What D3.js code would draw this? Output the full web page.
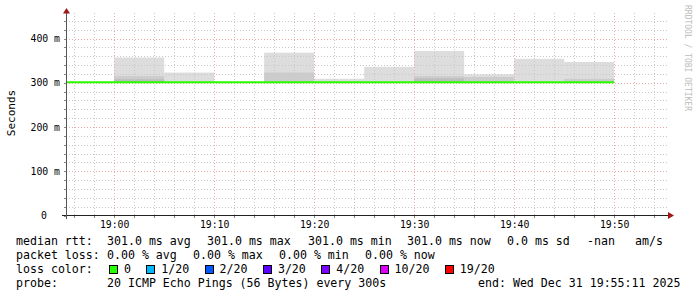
<!DOCTYPE html>
<html>
<head>
<meta charset="utf-8">
<script src="https://cdn.jsdelivr.net/npm/d3@7/dist/d3.min.js"></script>
<style>
  body { margin: 0; background: #fff; }
  text { font-family: 'DejaVu Sans Mono', monospace; white-space: pre; }
</style>
</head>
<body>
<div id="chart"></div>
<script>
// 5-minute intervals (start time), values in ms
let intervalStarts = ['18:55', '19:00', '19:05', '19:10', '19:15', '19:20', '19:25', '19:30', '19:35', '19:40', '19:45']
let medianMs = [301, 301, 301, 301, 301, 301, 301, 301, 301, 301, 301]
let smokeOuterMs = [null, 357, 323, null, 368, 309, 336, 372, 319, 354, 347]
let smokeMidMs = [null, 315, null, null, 323, null, null, 315, 313, null, 309]
let smokeCoreMs = [null, 308, null, null, null, null, null, 310, null, null, null]
let smokeMinMs = 300.5

let lossLabels = ['0', '1/20', '2/20', '3/20', '4/20', '10/20', '19/20']
let lossColors = ['#26ff00', '#00b8ff', '#0059ff', '#5e00ff', '#7e00ff', '#dd00ff', '#ff0000']

let rttLine = [
  ['median rtt:', 16], ['301.0 ms avg', 107], ['301.0 ms max', 207], ['301.0 ms min', 308],
  ['301.0 ms now', 407], ['0.0 ms sd', 507], ['-nan', 587], ['am/s', 635]
]
let lossLine = [
  ['packet loss:', 16], ['0.00 % avg', 107], ['0.00 % max', 193], ['0.00 % min', 279], ['0.00 % now', 365]
]
let probeLine = [
  ['probe:', 16], ['20 ICMP Echo Pings (56 Bytes) every 300s', 107], ['end: Wed Dec 31 19:55:11 2025', 478]
]

let width = 697
let height = 297

let svg = d3
  .select('#chart')
  .append('svg')
  .attr('width', width)
  .attr('height', height)

svg.append('rect').attr('width', width).attr('height', height).attr('fill', '#fff')

let t = (hm, s = 0) => {
  let [h, m] = hm.split(':').map(Number)
  return new Date(2025, 11, 31, h, m, s)
}

let start = t('18:55', 11)
let end = t('19:55', 11)

let x = d3.scaleTime().domain([start, end]).range([66, 666])
let y = d3.scaleLinear().domain([0, 0.4565]).range([215.5, 13.5])

let px = v => Math.round(v) + 0.5

// smoke
let layers = [
  { vals: smokeOuterMs, color: '#dddddd' },
  { vals: smokeMidMs, color: '#cccccc' },
  { vals: smokeCoreMs, color: '#bdbdbd' }
]

layers.forEach(layer => {
  svg
    .append('g')
    .selectAll('rect')
    .data(intervalStarts.map((s, i) => ({ s, v: layer.vals[i] })).filter(d => d.v != null))
    .enter()
    .append('rect')
    .attr('x', d => Math.max(x(t(d.s)), 66))
    .attr('width', d => x(d3.timeMinute.offset(t(d.s), 5)) - Math.max(x(t(d.s)), 66))
    .attr('y', d => y(d.v / 1000))
    .attr('height', d => y(smokeMinMs / 1000) - y(d.v / 1000))
    .attr('fill', layer.color)
})

// grid
let minorX = d3.timeMinute.every(2).range(start, end)
let majorX = d3.timeMinute.every(10).range(start, end)
let minorY = d3.range(0, 0.457, 0.02)
let majorY = d3.range(0, 0.457, 0.1)

let grid = svg.append('g').attr('shape-rendering', 'crispEdges')

grid
  .selectAll('.vminor')
  .data(minorX)
  .enter()
  .append('line')
  .attr('x1', d => px(x(d)))
  .attr('x2', d => px(x(d)))
  .attr('y1', 13)
  .attr('y2', 215)
  .attr('stroke', '#c8c8c8')
  .attr('stroke-dasharray', '1,2')

grid
  .selectAll('.hminor')
  .data(minorY.slice(1))
  .enter()
  .append('line')
  .attr('x1', 66)
  .attr('x2', 668)
  .attr('y1', d => px(y(d)))
  .attr('y2', d => px(y(d)))
  .attr('stroke', '#c8c8c8')
  .attr('stroke-dasharray', '1,2')

grid
  .selectAll('.vmajor')
  .data(majorX)
  .enter()
  .append('line')
  .attr('x1', d => px(x(d)))
  .attr('x2', d => px(x(d)))
  .attr('y1', 13)
  .attr('y2', 215)
  .attr('stroke', '#f0a8a8')
  .attr('stroke-dasharray', '1,2')

grid
  .selectAll('.hmajor')
  .data(majorY.slice(1))
  .enter()
  .append('line')
  .attr('x1', 66)
  .attr('x2', 668)
  .attr('y1', d => px(y(d)))
  .attr('y2', d => px(y(d)))
  .attr('stroke', '#f0a8a8')
  .attr('stroke-dasharray', '1,2')

// median line (loss 0 -> green)
let medianPts = []
intervalStarts.forEach((s, i) => {
  medianPts.push([Math.max(x(t(s)), 66), y(medianMs[i] / 1000)])
  medianPts.push([x(d3.timeMinute.offset(t(s), 5)), y(medianMs[i] / 1000)])
})

svg
  .append('path')
  .attr('d', d3.line()(medianPts))
  .attr('fill', 'none')
  .attr('stroke', lossColors[0])
  .attr('stroke-width', 2)

// axes
let axis = svg.append('g').attr('shape-rendering', 'crispEdges')

axis.append('line').attr('x1', 62).attr('x2', 669).attr('y1', 215.5).attr('y2', 215.5).attr('stroke', '#222')
axis.append('line').attr('x1', 66.5).attr('x2', 66.5).attr('y1', 11).attr('y2', 219).attr('stroke', '#555')

axis
  .selectAll('.ytick')
  .data(minorY)
  .enter()
  .append('line')
  .attr('x1', 64)
  .attr('x2', 66)
  .attr('y1', d => px(y(d)))
  .attr('y2', d => px(y(d)))
  .attr('stroke', '#888')

axis
  .selectAll('.xtick')
  .data(minorX)
  .enter()
  .append('line')
  .attr('x1', d => px(x(d)))
  .attr('x2', d => px(x(d)))
  .attr('y1', 216)
  .attr('y2', 218)
  .attr('stroke', '#888')

svg.append('path').attr('d', 'M63,13.5 L66.5,8 L70,13.5 Z').attr('fill', '#a01818')
svg.append('path').attr('d', 'M668,212 L674,215.5 L668,219 Z').attr('fill', '#a01818')

// tick labels
svg
  .selectAll('.ylabel')
  .data(majorY)
  .enter()
  .append('text')
  .attr('x', d => (d === 0 ? 47 : 60))
  .attr('y', d => y(d) + 3.5)
  .attr('text-anchor', 'end')
  .attr('font-size', 9.8)
  .attr('fill', '#000')
  .text(d => (d === 0 ? '0' : Math.round(d * 1000) + ' m'))

svg
  .selectAll('.xlabel')
  .data(majorX)
  .enter()
  .append('text')
  .attr('x', d => x(d) + 0.5)
  .attr('y', 228)
  .attr('text-anchor', 'middle')
  .attr('font-size', 9.8)
  .attr('fill', '#000')
  .text(d => d3.timeFormat('%H:%M')(d))

svg
  .append('text')
  .attr('transform', 'translate(15,113) rotate(-90)')
  .attr('text-anchor', 'middle')
  .attr('font-size', 11)
  .attr('fill', '#000')
  .text('Seconds')

svg
  .append('text')
  .attr('transform', 'translate(685,5) rotate(90)')
  .attr('font-size', 8)
  .attr('fill', '#bdbdbd')
  .text('RRDTOOL / TOBI OETIKER')

// legend
let drawLine = (items, yy) => {
  svg
    .append('g')
    .selectAll('text')
    .data(items)
    .enter()
    .append('text')
    .attr('x', d => d[1])
    .attr('y', yy)
    .attr('font-size', 11.6)
    .attr('fill', '#000')
    .text(d => d[0])
}

drawLine(rttLine, 245)
drawLine(lossLine, 259)
drawLine(probeLine, 287)

svg.append('text').attr('x', 16).attr('y', 273).attr('font-size', 11.6).attr('fill', '#000').text('loss color:')

let lx = 109
lossLabels.forEach((lab, i) => {
  let g = svg.append('g').attr('transform', `translate(${lx},0)`)
  g.append('rect')
    .attr('x', 0.5)
    .attr('y', 265.5)
    .attr('width', 8)
    .attr('height', 8)
    .attr('fill', lossColors[i])
    .attr('stroke', '#000')
    .attr('shape-rendering', 'crispEdges')
  g.append('text')
    .attr('x', 15)
    .attr('y', 273)
    .attr('font-size', 11.6)
    .attr('fill', '#000')
    .text(lab)
  lx += 30.3 + 7 * lab.length
})
</script>
</body>
</html>
